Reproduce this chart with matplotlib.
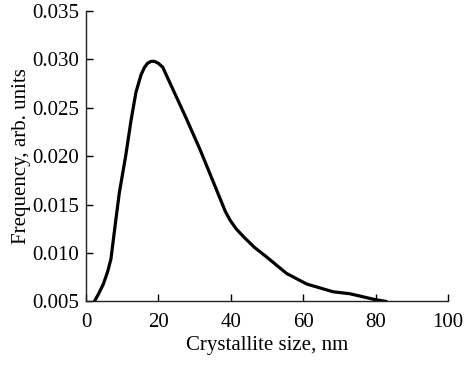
import numpy as np
import matplotlib.pyplot as plt

plt.rcParams['font.family'] = ['Liberation Serif', 'DejaVu Serif']

# crystallite size distribution
size_nm = [2.3, 3.5, 4.8, 6.0, 6.9, 7.8, 9.2, 11.0, 12.4, 13.8, 15.2, 16.2,
           17.0, 18.0, 18.9, 20.0, 21.2, 23.9, 27.6, 31.5, 36.1, 38.5, 39.8,
           41.5, 43.5, 46.5, 49.9, 55.4, 61.0, 68.3, 72.9, 79.8, 83.0]
frequency = [0.0050, 0.0058, 0.0068, 0.0081, 0.0094, 0.0121, 0.0162, 0.0201,
             0.0236, 0.0266, 0.0284, 0.0292, 0.0296, 0.0298, 0.0298, 0.0296,
             0.0292, 0.0270, 0.0240, 0.0207, 0.0165, 0.0143, 0.0134, 0.0125,
             0.0117, 0.0106, 0.0096, 0.0079, 0.0068, 0.0060, 0.0058, 0.0052,
             0.0050]

x_ticks = [0, 20, 40, 60, 80, 100]
y_ticks = [0.005, 0.010, 0.015, 0.020, 0.025, 0.030, 0.035]

fig = plt.figure(figsize=(4.74, 3.77), dpi=100)
ax = fig.add_axes([0.1814, 0.2003, 0.7636, 0.7705])

ax.plot(size_nm, frequency, color='black', linewidth=2.3,
        solid_capstyle='round', solid_joinstyle='round')

ax.set_xlim(0, 100)
ax.set_ylim(0.005, 0.035)
ax.set_xticks(x_ticks)
ax.set_yticks(y_ticks)
ax.set_yticklabels(['%.3f' % v for v in y_ticks])
ax.tick_params(direction='in', length=5, width=1, labelsize=15)
ax.tick_params(axis='x', pad=8)
ax.tick_params(axis='y', pad=5)

ax.spines['top'].set_visible(False)
ax.spines['right'].set_visible(False)
for s in ['left', 'bottom']:
    ax.spines[s].set_linewidth(1)
    ax.spines[s].set_color('#222222')

ax.set_xlabel('Crystallite size, nm', fontsize=15, labelpad=3)
ax.set_ylabel('Frequency, arb. units', fontsize=15, labelpad=1)

fig.savefig('out.png', dpi=100)
